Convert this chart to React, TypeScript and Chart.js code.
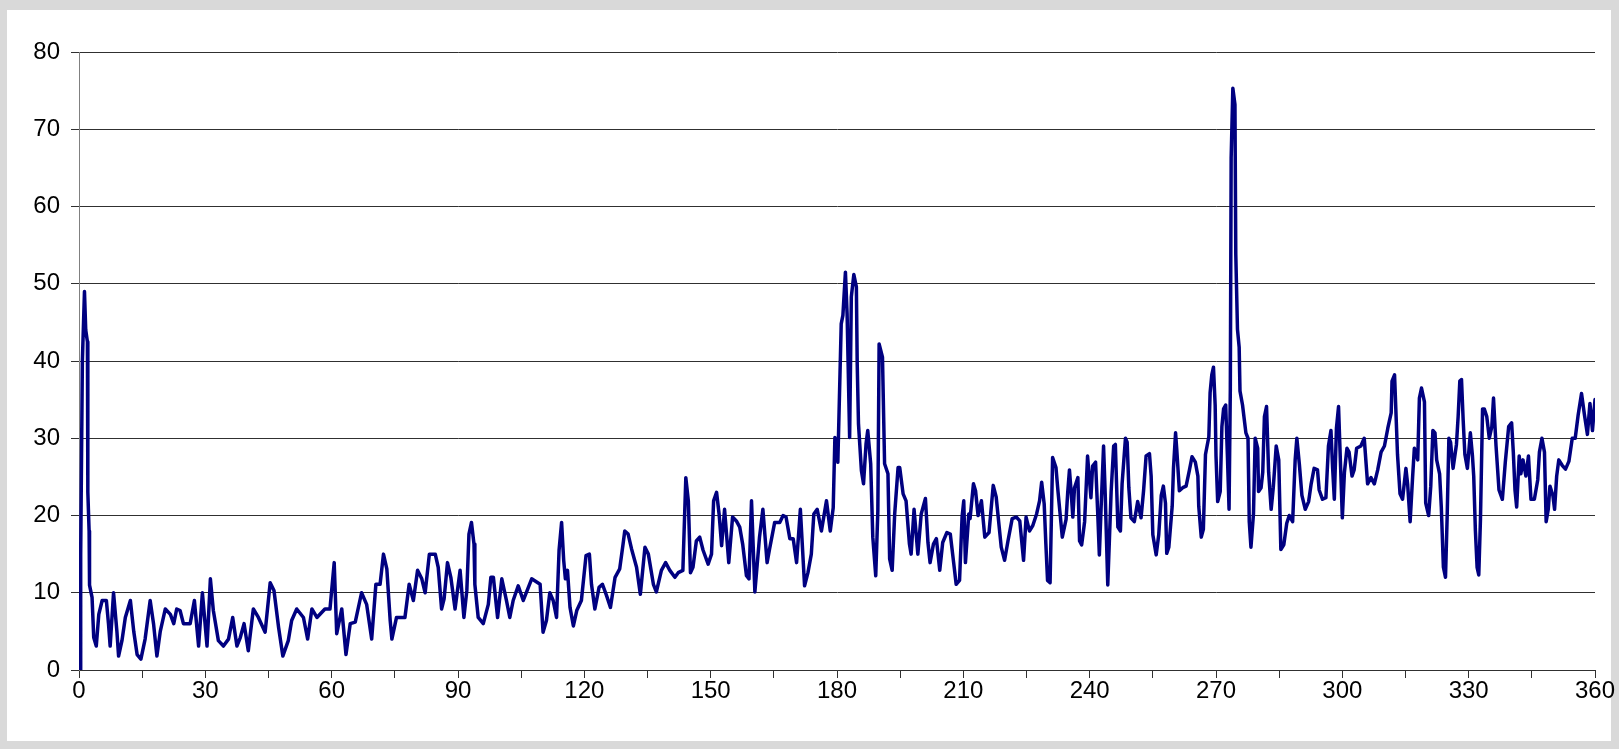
import React, { useEffect, useRef } from "react";
import { Chart, registerables } from "chart.js";

Chart.register(...registerables);

// x positions (degrees) of the series samples
const xValues: number[] = [
  0.3, 0.4, 0.8, 1.3, 1.6, 2.0, 2.1, 2.4, 2.5, 3.1,
  3.5, 4.1, 4.7, 5.5, 6.5, 7.0, 7.4, 8.2, 9.0, 9.4,
  10.2, 11.0, 12.2, 13.0, 13.8, 14.7, 15.7, 16.9, 17.7, 18.5,
  19.3, 20.5, 21.7, 22.5, 23.2, 24.0, 24.8, 26.4, 27.4, 28.4,
  29.3, 30.4, 31.2, 31.9, 33.1, 34.3, 35.5, 36.5, 37.5, 38.3,
  39.2, 40.2, 41.4, 42.6, 44.2, 45.4, 46.3, 47.4, 48.4, 49.7,
  50.5, 51.7, 53.3, 54.3, 55.3, 56.5, 58.4, 59.6, 60.6, 61.2,
  62.4, 63.4, 64.4, 65.6, 67.1, 68.3, 69.5, 70.5, 71.5, 72.3,
  73.1, 73.9, 74.3, 75.4, 76.2, 77.4, 78.4, 79.4, 80.4, 81.4,
  82.2, 83.2, 84.6, 85.3, 86.1, 86.7, 87.5, 88.3, 89.3, 90.5,
  91.4, 92.1, 92.6, 93.2, 93.8, 94.0, 94.8, 96.0, 97.2, 97.8,
  98.4, 99.4, 100.4, 101.5, 102.3, 103.1, 104.3, 105.5, 107.5, 109.5,
  110.2, 111.0, 111.8, 112.6, 113.4, 114.0, 114.6, 115.1, 115.5, 116.0,
  116.6, 117.4, 118.2, 119.3, 120.4, 121.2, 121.7, 122.5, 123.5, 124.3,
  125.3, 126.2, 127.3, 128.4, 129.2, 129.6, 130.4, 131.2, 132.4, 133.3,
  134.4, 135.2, 136.4, 137.1, 138.3, 139.3, 140.3, 141.5, 142.3, 143.4,
  144.1, 144.7, 145.2, 145.8, 146.6, 147.4, 148.2, 149.4, 150.2, 150.7,
  151.4, 152.0, 152.6, 153.3, 154.3, 155.2, 156.1, 156.9, 157.6, 158.5,
  159.1, 159.7, 160.5, 161.6, 162.4, 163.4, 164.0, 165.2, 166.4, 167.2,
  167.9, 168.8, 169.6, 170.4, 171.3, 172.3, 173.1, 173.9, 174.5, 175.3,
  176.3, 177.1, 177.5, 178.4, 179.1, 179.5, 180.2, 181.0, 181.4, 182.0,
  182.4, 183.0, 183.4, 184.0, 184.6, 184.8, 185.1, 185.8, 186.3, 186.9,
  187.3, 188.0, 188.5, 189.2, 189.7, 190.0, 190.8, 191.3, 192.1, 192.5,
  193.1, 193.7, 194.5, 194.9, 195.7, 196.4, 197.2, 197.6, 198.3, 199.2,
  200.0, 201.0, 201.6, 202.1, 202.9, 203.6, 204.4, 205.1, 206.1, 206.9,
  207.7, 208.3, 209.1, 209.7, 210.1, 210.5, 211.3, 211.6, 212.4, 212.9,
  213.5, 214.3, 215.1, 216.1, 217.1, 217.8, 219.0, 219.8, 220.6, 221.6,
  222.6, 223.4, 224.3, 224.9, 225.7, 226.5, 227.4, 228.1, 228.6, 229.2,
  229.6, 230.0, 230.6, 231.2, 232.0, 232.5, 233.5, 234.4, 234.8, 235.2,
  235.6, 236.0, 236.4, 237.2, 237.6, 238.1, 238.8, 239.5, 240.3, 240.7,
  241.4, 241.9, 242.3, 242.7, 243.3, 243.7, 244.3, 245.1, 245.7, 246.1,
  246.7, 247.3, 247.7, 248.5, 248.9, 249.3, 249.8, 250.6, 251.4, 252.2,
  252.8, 253.4, 254.2, 254.6, 255.0, 255.8, 256.4, 257.0, 257.5, 258.0,
  258.3, 258.8, 259.6, 259.9, 260.4, 260.7, 261.3, 262.1, 262.9, 263.7,
  264.3, 265.1, 265.7, 265.9, 266.5, 267.0, 267.5, 268.3, 268.6, 269.0,
  269.4, 269.8, 270.0, 270.4, 271.0, 271.4, 271.8, 272.3, 272.7, 273.1,
  273.4, 273.6, 274.0, 274.5, 274.7, 275.1, 275.5, 275.7, 276.3, 276.7,
  277.1, 277.6, 277.9, 278.3, 278.9, 279.3, 279.9, 280.1, 280.7, 281.1,
  281.5, 282.0, 282.5, 283.1, 283.6, 284.3, 284.9, 285.4, 286.1, 286.8,
  287.4, 288.2, 288.8, 289.2, 289.8, 290.4, 291.2, 292.0, 292.6, 293.3,
  294.1, 294.5, 295.3, 296.1, 296.7, 297.3, 297.7, 298.1, 298.6, 299.1,
  299.6, 300.0, 300.5, 301.1, 301.6, 302.3, 302.8, 303.4, 304.4, 305.2,
  306.0, 306.8, 307.6, 308.4, 309.2, 310.0, 310.8, 311.6, 311.8, 312.4,
  312.7, 313.1, 313.7, 314.3, 315.1, 315.5, 316.1, 316.7, 317.1, 317.9,
  318.3, 318.8, 319.5, 319.8, 320.5, 321.0, 321.5, 322.0, 322.4, 323.1,
  323.5, 324.0, 324.5, 324.9, 325.3, 325.7, 326.3, 327.1, 327.5, 327.9,
  328.3, 328.7, 329.1, 329.7, 330.4, 330.9, 331.2, 331.6, 332.0, 332.4,
  332.8, 333.3, 333.7, 334.3, 334.9, 335.5, 335.9, 336.5, 337.2, 338.0,
  338.7, 339.5, 340.2, 340.6, 341.0, 341.4, 342.0, 342.4, 342.9, 343.6,
  344.2, 344.8, 345.6, 346.4, 346.8, 347.4, 348.0, 348.4, 348.9, 349.3,
  350.0, 350.4, 350.9, 351.4, 352.2, 353.0, 353.8, 354.6, 355.3, 356.0,
  356.8, 357.5, 358.2, 358.8, 359.4, 360.0,
];

// series values
const yValues: number[] = [
  0, 15, 40, 49, 44, 42.5, 23, 18, 11, 9.4,
  4.2, 3.1, 7.2, 9, 9, 6, 3.1, 10, 5, 1.8,
  3.8, 6.8, 9, 5, 2, 1.4, 4, 9, 6, 1.8,
  5, 7.9, 7.2, 6, 7.9, 7.7, 6, 6, 9, 3.1,
  10, 3.1, 11.8, 7.7, 3.8, 3.1, 4, 6.8, 3.1, 4.2,
  6, 2.5, 7.9, 6.8, 4.9, 11.3, 10.3, 5.5, 1.8, 3.8,
  6.4, 7.9, 6.8, 4, 7.9, 6.8, 7.9, 7.9, 13.9, 4.7,
  7.9, 2, 6, 6.2, 10, 8.5, 4, 11.1, 11.1, 15,
  13.1, 6.4, 4, 6.8, 6.8, 6.8, 11.1, 9, 12.9, 11.8,
  10, 15, 15, 13.3, 7.9, 9.2, 13.9, 12, 7.9, 12.9,
  6.8, 10.3, 17.6, 19.1, 16.3, 11.1, 6.8, 6, 8.5, 12,
  12, 6.8, 11.8, 9, 6.8, 9, 10.9, 9, 11.8, 11.1,
  4.9, 6.4, 10, 9, 6.8, 15.5, 19.1, 14.2, 11.8, 12.9,
  8.1, 5.7, 7.7, 9, 14.8, 15, 11.1, 7.9, 10.7, 11.1,
  9.6, 8.1, 12, 13.1, 16.3, 18, 17.6, 15.7, 13.3, 9.8,
  15.9, 15, 11.1, 10.1, 12.9, 13.9, 12.9, 12, 12.6, 12.9,
  24.9, 21.9, 12.6, 13.3, 16.7, 17.2, 15.5, 13.7, 15, 21.9,
  23, 20.2, 16.1, 20.8, 13.9, 19.8, 19.3, 18.5, 16.3, 12.2,
  11.8, 21.9, 10.1, 17.2, 20.8, 13.9, 15.7, 19.1, 19.1, 20,
  19.8, 17, 17, 13.9, 20.8, 10.9, 12.6, 15, 20.2, 20.8,
  18, 20.6, 21.9, 18, 21, 30.1, 26.9, 44.8, 45.9, 51.5,
  46.1, 30.1, 48.3, 51.2, 49.6, 39.6, 31.9, 25.8, 24.1, 29.3,
  31, 26.7, 17.2, 12.2, 20.6, 42.2, 40.5, 26.7, 25.4, 14.4,
  12.9, 20.2, 26.2, 26.2, 22.8, 21.9, 16.3, 15, 20.8, 15,
  20.2, 22.2, 16.5, 13.9, 16.3, 17, 12.9, 16.5, 17.8, 17.6,
  13.9, 11.1, 11.6, 19.8, 21.9, 13.9, 20.2, 19.6, 24.1, 23.2,
  20, 21.9, 17.2, 17.8, 23.9, 22.4, 15.9, 14.2, 16.7, 19.6,
  19.8, 19.3, 14.2, 19.8, 18, 18.7, 20.2, 21.9, 24.3, 21.5,
  16.3, 11.6, 11.3, 27.5, 26.2, 23, 17.2, 19.5, 23.1, 25.9,
  23.1, 19.8, 23.6, 24.9, 16.7, 16.2, 19.2, 27.7, 22.3, 26.4,
  26.9, 20.5, 14.9, 20.8, 29, 22.6, 11, 23.1, 29, 29.2,
  18.5, 18, 24.1, 30, 29.5, 23.6, 19.7, 19.2, 21.8, 19.7,
  23.2, 27.7, 28, 25.1, 17.5, 14.9, 17.5, 22.6, 23.8, 21.6,
  15.1, 15.9, 21.2, 26.1, 30.7, 28.4, 23.2, 23.6, 23.8, 25.9,
  27.6, 26.9, 25.1, 21.2, 17.2, 18.2, 27.9, 30.2, 35.9, 38.2,
  39.2, 34.3, 27.7, 21.8, 23.1, 31.5, 33.8, 34.3, 27.9, 20.8,
  36.3, 66.3, 75.3, 73.2, 53.8, 44.1, 41.8, 36.1, 34.3, 32.5,
  30.7, 30, 19.2, 15.9, 20.2, 30, 28.7, 23.1, 23.6, 25.6,
  32.8, 34.1, 25.6, 20.8, 23.6, 29, 27.2, 15.6, 16.2, 19,
  20, 19.2, 27.2, 30, 26.6, 22.6, 20.8, 21.8, 24.1, 26.1,
  25.9, 23.3, 22.1, 22.3, 29, 31, 26.1, 22.1, 31.3, 34.1,
  26.1, 19.7, 25.6, 28.7, 28.2, 25.1, 25.9, 28.7, 29, 30,
  24.1, 24.9, 24.1, 25.9, 28.2, 29, 31.3, 33.3, 37.4, 38.2,
  33.8, 27.9, 22.8, 22.1, 26.1, 24.1, 19.2, 25.1, 28.7, 27.2,
  35.2, 36.5, 34.7, 21.6, 20, 23.8, 31, 30.7, 27.2, 25.4,
  21.1, 13.3, 12, 20, 30, 29.5, 26.1, 29.2, 32.8, 37.4,
  37.6, 32.3, 27.9, 26.1, 30.7, 27.7, 25.1, 18, 13.3, 12.3,
  19.5, 33.8, 33.8, 32.8, 30, 31.5, 35.2, 29, 23.3, 22.1,
  26.9, 31.5, 32, 28.2, 23.3, 21.1, 27.7, 25.4, 27.2, 25.1,
  27.7, 22.1, 22.1, 24.6, 28.2, 30, 28.2, 19.2, 20.8, 23.8,
  22.6, 20.8, 25.1, 27.2, 26.5, 26, 27, 30, 30, 33,
  35.8, 33, 30.5, 34.5, 31, 35,
];

const xMin = 0;
const xMax = 360;
const xTickStep = 15;
const xLabelStep = 30;
const yMin = 0;
const yMax = 80;
const yTickStep = 10;

const FONT = "'Liberation Sans', Arial, Helvetica, sans-serif";

export default function App() {
  const canvasRef = useRef<HTMLCanvasElement | null>(null);

  useEffect(() => {
    const canvas = canvasRef.current;
    if (!canvas) return;
    const points = xValues.map((x, i) => ({ x, y: yValues[i] }));
    const chart = new Chart(canvas, {
      type: "line",
      data: {
        datasets: [
          {
            data: points,
            borderColor: "#000080",
            backgroundColor: "#000080",
            borderWidth: 3.5,
            pointRadius: 0,
            pointHoverRadius: 0,
            tension: 0,
            fill: false,
            borderJoinStyle: "round",
            borderCapStyle: "round",
          },
        ],
      },
      options: {
        animation: false,
        responsive: false,
        maintainAspectRatio: false,
        events: [],
        layout: { padding: { left: 0, top: 52, right: 34, bottom: 0 } },
        plugins: {
          legend: { display: false },
          tooltip: { enabled: false },
          title: { display: false },
        },
        scales: {
          x: {
            type: "linear",
            min: xMin,
            max: xMax,
            afterFit: (s: any) => {
              s.height = 79;
            },
            ticks: {
              stepSize: xTickStep,
              autoSkip: false,
              maxRotation: 0,
              minRotation: 0,
              padding: -1,
              color: "#000",
              font: { family: FONT, size: 24 },
              callback: (v: any) => (Number(v) % xLabelStep === 0 ? String(v) : ""),
            },
            grid: {
              drawOnChartArea: false,
              drawTicks: true,
              tickLength: 8,
              color: "#303030",
              lineWidth: 1,
            },
            border: { display: true, color: "#303030", width: 1 },
          },
          y: {
            type: "linear",
            min: yMin,
            max: yMax,
            afterFit: (s: any) => {
              s.width = 79;
            },
            ticks: {
              stepSize: yTickStep,
              padding: 11,
              color: "#000",
              font: { family: FONT, size: 24 },
            },
            grid: {
              color: "#303030",
              lineWidth: 1,
              tickLength: 8,
              drawTicks: true,
            },
            border: { display: true, color: "#808080", width: 1 },
          },
        },
      },
    });
    return () => chart.destroy();
  }, []);

  return (
    <div
      style={{
        position: "fixed",
        left: 0,
        top: 0,
        width: 1619,
        height: 749,
        background: "#d9d9d9",
        overflow: "hidden",
      }}
    >
      <div
        style={{
          position: "absolute",
          left: 7,
          top: 10,
          width: 1604,
          height: 731,
          background: "#ffffff",
        }}
      />
      <canvas
        ref={canvasRef}
        width={1629}
        height={749}
        style={{ position: "absolute", left: 0, top: 0, width: 1629, height: 749 }}
      />
    </div>
  );
}
